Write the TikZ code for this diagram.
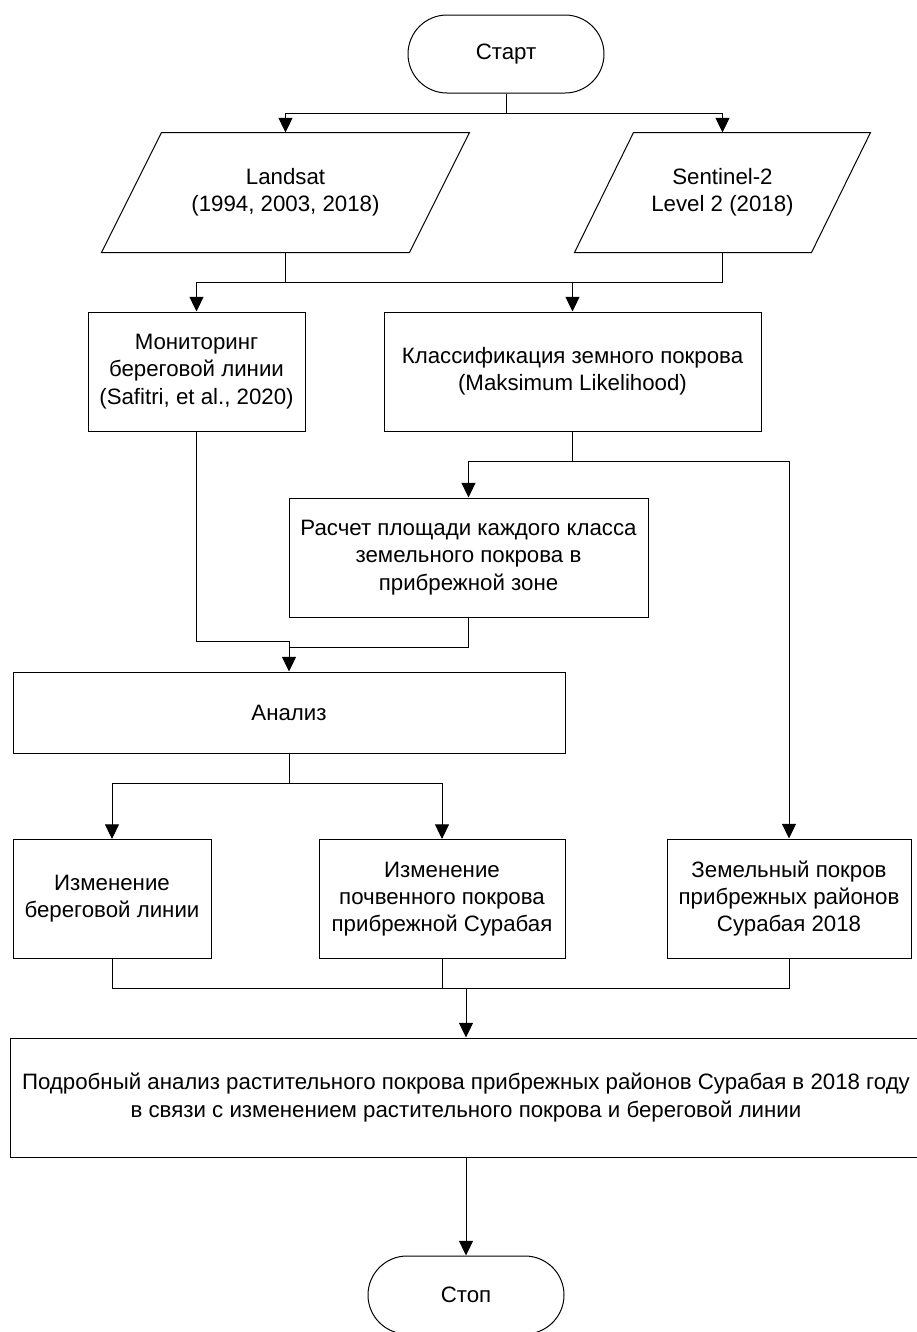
\documentclass[tikz,border=0pt]{standalone}
\usepackage{fontspec}
\setmainfont{Liberation Sans}
\usetikzlibrary{arrows.meta,calc}

\begin{document}
\begin{tikzpicture}[x=.75pt,y=-.75pt,line width=.75pt,
	every node/.style={font=\fontsize{16.7}{20.4}\selectfont,align=center,inner sep=0pt},
	term/.style={draw,rectangle,rounded corners=29.25pt,minimum width=147pt,minimum height=58.5pt},
	dat/.style={rectangle,minimum width=#1,minimum height=89.25pt},
	blok/.style={draw,rectangle,minimum width=#1,minimum height=89.25pt},
	pil/.style={-{Triangle[length=11pt,width=10.5pt]}}]
	\useasboundingbox (0,0) rectangle (917,1332);
	\node[term] (start) at (506,54) {Старт};
	\node[dat=230.25pt] (landsat) at (285.5,192.5) {Landsat\\(1994, 2003, 2018)};
	\node[dat=177pt] (sentinel) at (722.5,192.5) {Sentinel-2\\Level 2 (2018)};
	\foreach \n/\s in {landsat/30,sentinel/29.5}
		\draw ($(\n.south west)+(-\s,0)$) -- ($(\n.south east)+(-\s,0)$) -- ($(\n.north east)+(\s,0)$) -- ($(\n.north west)+(\s,0)$) -- cycle;
	\node[blok=162.75pt] (monit) at (196.5,371.5) {Мониторинг\\береговой линии\\(Safitri, et al., 2020)};
	\node[blok=282.75pt] (klass) at (572.5,371.5) {Классификация земного покрова\\(Maksimum Likelihood)};
	\node[blok=269.25pt] (rasch) at (468.5,557.5) {Расчет площади каждого класса\\земельного покрова в\\прибрежной зоне};
	\node[blok=414pt,minimum height=60.75pt] (analiz) at (289,712.5) {Анализ};
	\node[blok=148.5pt] (izmb) at (112,899) {Изменение\\береговой линии};
	\node[blok=184.5pt] (izmp) at (442,899) {Изменение\\почвенного покрова\\прибрежной Сурабая};
	\node[blok=183pt] (zem) at (789,898.5) {Земельный покров\\прибрежных районов\\Сурабая 2018};
	\node[blok=683.25pt] (itog) at (466,1097.5) {Подробный анализ растительного покрова прибрежных районов Сурабая в 2018 году\\в связи с изменением растительного покрова и береговой линии};
	\node[term] (stop) at (466,1295) {Стоп};
	\path
	(0,113) coordinate (s1)
	(0,282) coordinate (p1)
	(0,461) coordinate (k1)
	(289,641) coordinate (m1)
	(289,647) coordinate (r1)
	(0,783) coordinate (a1)
	(466,988) coordinate (b1);
	\draw (start) -- (start |- s1);
	\draw[pil] (start |- s1) -| (landsat);
	\draw[pil] (start |- s1) -| (sentinel);
	\draw (landsat) -- (landsat |- p1);
	\draw (sentinel) |- (landsat |- p1);
	\draw[pil] (landsat |- p1) -| (monit);
	\draw[pil] (klass |- p1) -- (klass);
	\draw (klass) -- (klass |- k1);
	\draw[pil] (klass |- k1) -| (rasch);
	\draw[pil] (klass |- k1) -| (zem);
	\draw[pil] (monit) |- (m1) -- (analiz);
	\draw (rasch) |- (r1);
	\draw (analiz) -- (analiz |- a1);
	\draw[pil] (analiz |- a1) -| (izmb);
	\draw[pil] (analiz |- a1) -| (izmp);
	\draw (izmb) |- (b1) (zem) |- (b1) (izmp) -- (izmp |- b1);
	\draw[pil] (b1) -- (itog);
	\draw[pil] (itog) -- (stop);
\end{tikzpicture}
\end{document}
